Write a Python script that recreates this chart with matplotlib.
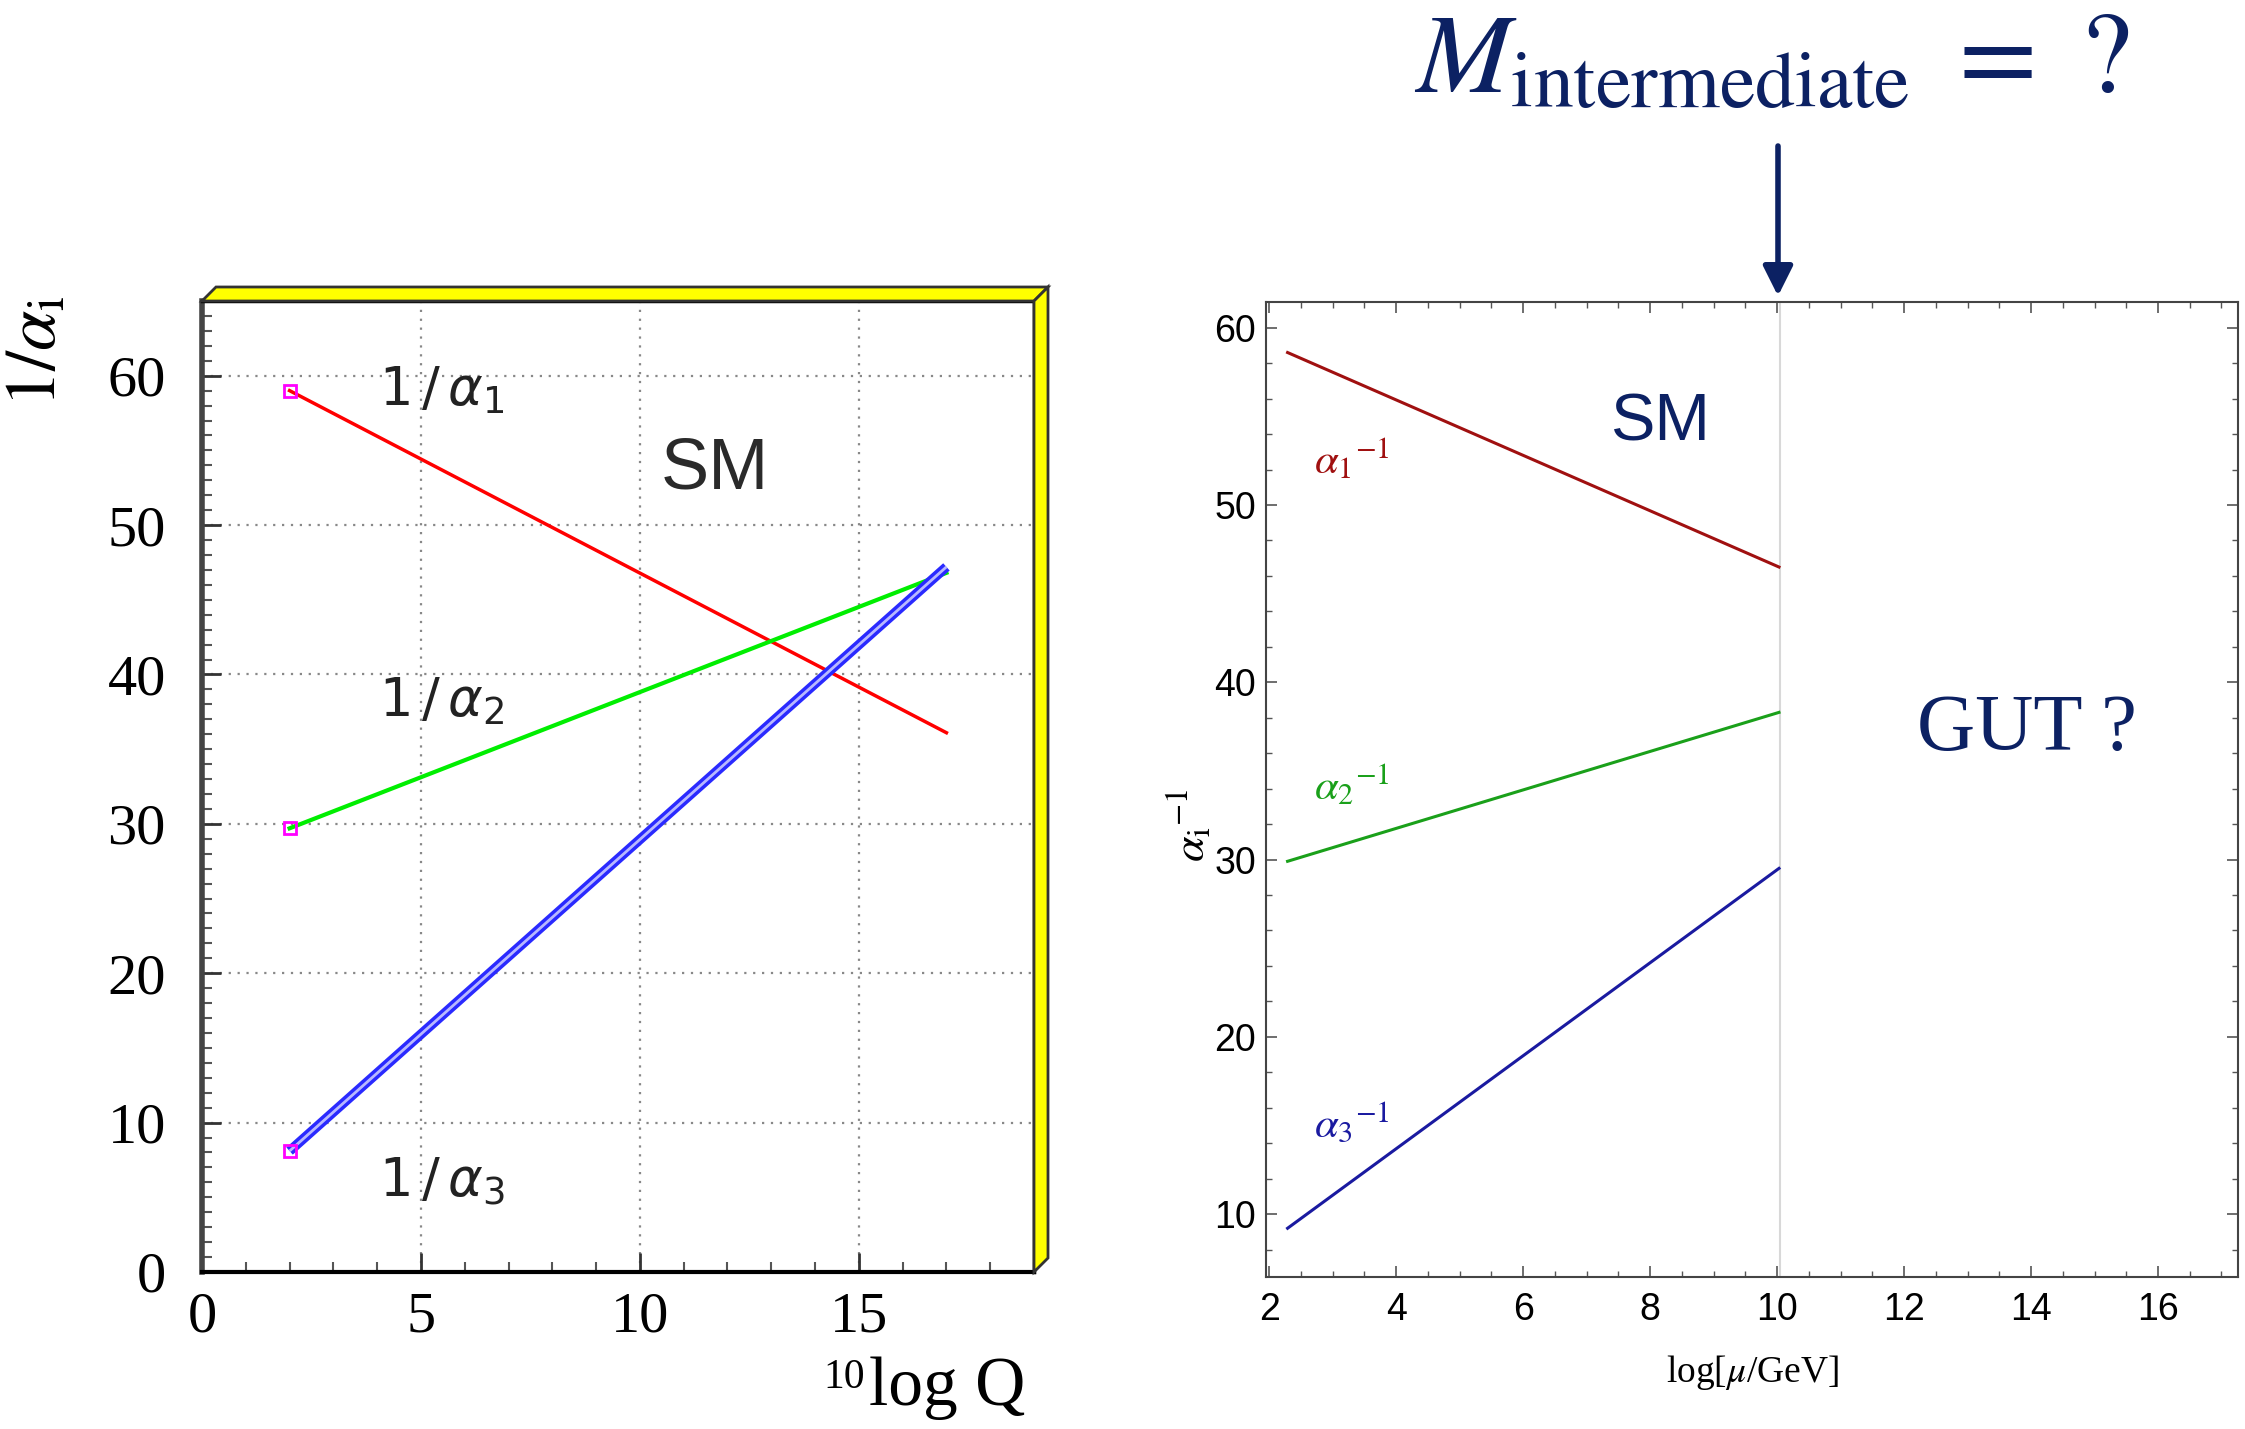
import matplotlib
matplotlib.use("Agg")
import matplotlib.pyplot as plt
from matplotlib.patches import Polygon
from matplotlib.ticker import MultipleLocator

# left panel: ROOT style running of inverse couplings
q_left = [2, 17]
inv_a1_left = [59.0, 36.1]
inv_a2_left = [29.7, 46.8]
inv_a3_left = [8.1, 47.2]
xticks_left = [0, 5, 10, 15]
yticks_left = [0, 10, 20, 30, 40, 50, 60]

# right panel: running up to an intermediate scale
mu_right = [2.29, 10.03]
inv_a1_right = [58.6, 46.5]
inv_a2_right = [29.9, 38.3]
inv_a3_right = [9.2, 29.5]
m_intermediate = 10.04
xticks_right = [2, 4, 6, 8, 10, 12, 14, 16]
yticks_right = [10, 20, 30, 40, 50, 60]

navy = "#0c2163"
W, H = 2245, 1429


def fig_xy(px, py):
    return (px / W, 1 - py / H)


def main():
    plt.rcParams["mathtext.fontset"] = "stix"
    fig = plt.figure(figsize=(22.45, 14.29), dpi=100)

    # ---------- left panel ----------
    lx0, lx1, ly0, ly1 = 202, 1034, 301, 1272
    axL = fig.add_axes([lx0 / W, 1 - ly1 / H, (lx1 - lx0) / W, (ly1 - ly0) / H])
    axL.plot(q_left, inv_a1_left, color="#ff0000", lw=2.5)
    axL.plot(q_left, inv_a2_left, color="#00ee00", lw=3)
    axL.plot(q_left, inv_a3_left, color="#2a2aff", lw=7, solid_capstyle="butt")
    axL.plot(q_left, inv_a3_left, color="#b8b8ff", lw=2, solid_capstyle="butt")
    axL.plot([q_left[0]] * 3, [inv_a1_left[0], inv_a2_left[0], inv_a3_left[0]],
             ls="none", marker="s", ms=9, mfc="none", mec="#ff00ff", mew=2)
    axL.set_xlim(0, 19)
    axL.set_ylim(0, 65)
    axL.set_xticks(xticks_left)
    axL.set_yticks(yticks_left)
    axL.xaxis.set_minor_locator(MultipleLocator(1))
    axL.yaxis.set_minor_locator(MultipleLocator(1))
    axL.grid(True, which="major", color="#888888", lw=1.6, ls=(0, (1, 3)))
    axL.tick_params(which="major", direction="in", length=14, width=2,
                    color="#333333", labelsize=42, labelfontfamily="Liberation Serif")
    axL.tick_params(axis="y", which="major", pad=26)
    axL.tick_params(axis="x", which="major", pad=14)
    axL.tick_params(which="minor", direction="in", length=7, width=1.5,
                    color="#555555")
    for s in ["top", "right"]:
        axL.spines[s].set_linewidth(2.5)
    axL.spines["left"].set_linewidth(4)
    axL.spines["left"].set_color("#444444")
    axL.spines["bottom"].set_linewidth(3)
    sans_lbl = dict(fontsize=38, color="#222222", math_fontfamily="dejavusans",
                    ha="left", va="center")
    axL.text(4.05, 59.0, r"$1\,/\,\alpha_1$", **sans_lbl)
    axL.text(4.05, 38.2, r"$1\,/\,\alpha_2$", **sans_lbl)
    axL.text(4.05, 6.0, r"$1\,/\,\alpha_3$", **sans_lbl)
    axL.text(11.7, 53.7, "SM", fontsize=52, color="#2a2a2a", ha="center", va="center",
             family="Liberation Sans")

    # 3D yellow frame of the ROOT canvas
    d = 14
    top_band = [fig_xy(lx0, ly0), fig_xy(lx0 + d, ly0 - d), fig_xy(lx1 + d, ly0 - d),
                fig_xy(lx1, ly0)]
    right_band = [fig_xy(lx1, ly0), fig_xy(lx1 + d, ly0 - d), fig_xy(lx1 + d, ly1 - d),
                  fig_xy(lx1, ly1)]
    for band in (top_band, right_band):
        fig.patches.append(Polygon(band, closed=True, facecolor="#ffff00",
                                   edgecolor="#333333", lw=2,
                                   transform=fig.transFigure, figure=fig))

    fig.text(*fig_xy(36, 352), r"$1/\alpha_{\mathrm{i}}$", rotation=90, fontsize=52,
             ha="center", va="center")
    fig.text(*fig_xy(869, 1405), "log Q", fontsize=50, family="Liberation Serif",
             ha="left", va="baseline")
    fig.text(*fig_xy(823, 1388), "10", fontsize=30, family="Liberation Serif",
             ha="left", va="baseline")

    # ---------- right panel ----------
    rx0, rx1, ry0, ry1 = 1266, 2238, 302, 1277
    axR = fig.add_axes([rx0 / W, 1 - ry1 / H, (rx1 - rx0) / W, (ry1 - ry0) / H])
    axR.axvline(m_intermediate, color="#d8d8d8", lw=1.5)
    axR.plot(mu_right, inv_a1_right, color="#a01010", lw=2.2)
    axR.plot(mu_right, inv_a2_right, color="#1aa01a", lw=2.2)
    axR.plot(mu_right, inv_a3_right, color="#1a1aa0", lw=2.2)
    axR.set_xlim(1.95, 17.26)
    axR.set_ylim(6.45, 61.45)
    axR.set_xticks(xticks_right)
    axR.set_yticks(yticks_right)
    axR.xaxis.set_minor_locator(MultipleLocator(0.5))
    axR.yaxis.set_minor_locator(MultipleLocator(2))
    axR.tick_params(which="both", direction="in", top=True, right=True,
                    color="#555555", labelsize=27, labelfontfamily="Liberation Sans")
    axR.tick_params(which="major", length=8, width=1.2)
    axR.tick_params(which="minor", length=4, width=1)
    axR.tick_params(axis="y", pad=7)
    axR.tick_params(axis="x", pad=11)
    for s in axR.spines.values():
        s.set_color("#444444")
        s.set_linewidth(1.5)

    lbl = dict(fontsize=31, ha="left", va="center")
    axR.text(2.7, 52.6, r"$\alpha_1{}^{-1}$", color="#a01010", **lbl)
    axR.text(2.7, 34.2, r"$\alpha_2{}^{-1}$", color="#1aa01a", **lbl)
    axR.text(2.7, 15.1, r"$\alpha_3{}^{-1}$", color="#1a1aa0", **lbl)
    axR.text(8.16, 54.6, "SM", fontsize=48, color=navy, ha="center", va="center",
             family="Liberation Sans")
    axR.text(13.93, 37.3, "GUT ?", fontsize=58, color=navy, ha="center", va="center",
             family="Liberation Serif")
    axR.set_xlabel(r"log[$\mu$/GeV]", fontsize=27, family="Liberation Serif", labelpad=18)
    fig.text(*fig_xy(1190, 825), r"$\alpha_{\mathrm{i}}{}^{-1}$", rotation=90, fontsize=33,
             ha="center", va="center")

    # intermediate scale arrow and headline
    axR.annotate("", xy=fig_xy(1778, 296), xytext=fig_xy(1778, 146),
                 xycoords="figure fraction", textcoords="figure fraction",
                 arrowprops=dict(arrowstyle="-|>", lw=4, color=navy,
                                 mutation_scale=45, shrinkA=0, shrinkB=0))
    fig.text(*fig_xy(1772, 93), r"$M_{\mathrm{intermediate}}\ =\ ?$", fontsize=82,
             color=navy, ha="center", va="baseline")

    fig.savefig("out.png", dpi=100)


if __name__ == "__main__":
    main()
